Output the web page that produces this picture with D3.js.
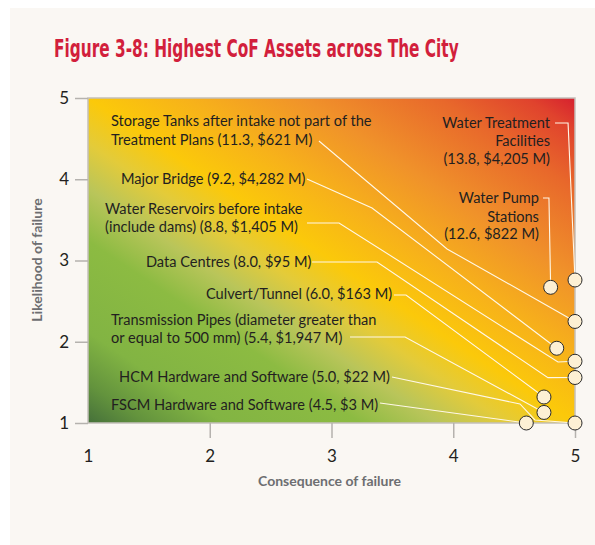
<html>

<head>
    <script src="https://d3js.org/d3.v7.min.js"></script>
    <style>
        body {
            margin: 0;
            background-color: white;
            font-family: Lato, "Open Sans", sans-serif;
        }
    </style>
</head>

<body>
    <div id="chart"></div>
    <script>
        // asset names, risk score and replacement value (from the figure)
        var assets = [
            "Water Treatment Facilities",
            "Water Pump Stations",
            "Storage Tanks after intake not part of the Treatment Plans",
            "Major Bridge",
            "Water Reservoirs before intake (include dams)",
            "Data Centres",
            "Culvert/Tunnel",
            "Transmission Pipes (diameter greater than or equal to 500 mm)",
            "FSCM Hardware and Software",
            "HCM Hardware and Software"
        ];
        var scores = ["13.8", "12.6", "11.3", "9.2", "8.8", "8.0", "6.0", "5.4", "4.5", "5.0"];
        var values = ["$4,205 M", "$822 M", "$621 M", "$4,282 M", "$1,405 M", "$95 M", "$163 M", "$1,947 M", "$3 M", "$22 M"];
        // consequence (x) and likelihood (y) of each asset
        var consequence = [5.0, 4.8, 5.0, 4.85, 5.0, 5.0, 4.745, 4.745, 4.6, 5.0];
        var likelihood = [2.76, 2.67, 2.25, 1.92, 1.76, 1.56, 1.32, 1.13, 1.0, 1.0];

        var xTicks = [1, 2, 3, 4, 5];
        var yTicks = [1, 2, 3, 4, 5];

        // callout layout, in data units: text lines, anchor, and leader bends
        var callouts = [
            { lines: ["Water Treatment", "Facilities", "(13.8, $4,205 M)"], anchor: "end", x: 4.795, y: [4.692, 4.471, 4.249],
              leader: [[4.836, 4.692], [4.943, 4.692]] },
            { lines: ["Water Pump", "Stations", "(12.6, $822 M)"], anchor: "end", x: 4.704, y: [3.769, 3.535, 3.326],
              leader: [[4.737, 3.769], [4.786, 3.769]] },
            { lines: ["Storage Tanks after intake not part of the", "Treatment Plans (11.3, $621 M)"], anchor: "start", x: 1.189, y: [4.717, 4.483],
              leader: [[2.897, 4.471], [3.949, 3.142]] },
            { lines: ["Major Bridge (9.2, $4,282 M)"], anchor: "start", x: 1.271, y: [4.003],
              leader: [[2.799, 4.003], [3.333, 3.646]] },
            { lines: ["Water Reservoirs before intake", "(include dams) (8.8, $1,405 M)"], anchor: "start", x: 1.140, y: [3.634, 3.412],
              leader: [[2.799, 3.462], [3.062, 3.462], [4.86, 1.751]] },
            { lines: ["Data Centres (8.0, $95 M)"], anchor: "start", x: 1.476, y: [2.982],
              leader: [[2.84, 2.982], [3.374, 2.982], [4.778, 1.558]] },
            { lines: ["Culvert/Tunnel (6.0, $163 M)"], anchor: "start", x: 1.969, y: [2.588],
              leader: [[3.513, 2.575], [3.612, 2.575]] },
            { lines: ["Transmission Pipes (diameter greater than", "or equal to 500 mm) (5.4, $1,947 M)"], anchor: "start", x: 1.189, y: [2.268, 2.046],
              leader: [[3.152, 2.058], [3.604, 2.058]] },
            { lines: ["FSCM Hardware and Software (4.5, $3 M)"], anchor: "start", x: 1.189, y: [1.222],
              leader: [[3.398, 1.246]] },
            { lines: ["HCM Hardware and Software (5.0, $22 M)"], anchor: "start", x: 1.255, y: [1.566],
              leader: [[3.497, 1.566], [4.548, 1.234], [4.671, 1.037]] }
        ];

        var width = 595, height = 545;
        var margin = { top: 98, right: 20, bottom: 122, left: 88 };

        var svg = d3.select("#chart").append("svg")
            .attr("width", width)
            .attr("height", height);

        // beige panel
        svg.append("rect")
            .attr("x", 10).attr("y", 8)
            .attr("width", width - 10).attr("height", height - 8)
            .attr("fill", "#faf7f3");

        // title: condensed look by squeezing the bold face horizontally
        var title = svg.append("text")
            .attr("fill", "#d21f3c")
            .style("font-family", "'Liberation Sans Narrow', 'DejaVu Sans Condensed', sans-serif")
            .style("font-weight", "bold")
            .style("font-size", "25px")
            .text("Figure 3-8: Highest CoF Assets across The City");
        var tw = title.node().getComputedTextLength();
        title.attr("transform", "translate(54,57) scale(" + Math.min(1, 405 / tw) + ",1)");

        var x = d3.scaleLinear().domain([1, 5]).range([margin.left, width - margin.right]);
        var y = d3.scaleLinear().domain([1, 5]).range([height - margin.bottom, margin.top]);

        var defs = svg.append("defs");
        var grad = defs.append("linearGradient")
            .attr("id", "risk")
            .attr("x1", 0).attr("y1", 1).attr("x2", 1).attr("y2", 0);
        var stops = [
            [0, "#45703a"], [0.06, "#63933d"], [0.14, "#82b443"], [0.28, "#8cbb42"],
            [0.36, "#b9c55a"], [0.43, "#e3cb3a"], [0.5, "#fbc90a"], [0.6, "#f7b21a"],
            [0.72, "#f0922a"], [0.86, "#e8682b"], [0.95, "#e0432d"], [1, "#d6202f"]
        ];
        grad.selectAll("stop").data(stops).enter().append("stop")
            .attr("offset", function (d) { return d[0]; })
            .attr("stop-color", function (d) { return d[1]; });

        svg.append("rect")
            .attr("x", x(1)).attr("y", y(5))
            .attr("width", x(5) - x(1)).attr("height", y(1) - y(5))
            .attr("fill", "url(#risk)")
            .attr("stroke", "#c4c0bb")
            .attr("stroke-width", 1.5);

        // axes
        var xAxis = svg.append("g")
            .attr("transform", "translate(0," + y(1) + ")")
            .call(d3.axisBottom(x).tickValues(xTicks).tickFormat(d3.format("d")).tickSize(15).tickPadding(12));
        var yAxis = svg.append("g")
            .attr("transform", "translate(" + x(1) + ",0)")
            .call(d3.axisLeft(y).tickValues(yTicks).tickFormat(d3.format("d")).tickSize(13).tickPadding(6));
        [xAxis, yAxis].forEach(function (a) {
            a.select(".domain").remove();
            a.selectAll("line").attr("stroke", "#b5b2ae").attr("stroke-width", 1.5);
            a.selectAll("text")
                .attr("fill", "#231f20")
                .style("font-family", "Lato, 'Open Sans', sans-serif")
                .style("font-size", "17px");
        });
        xAxis.selectAll(".tick").filter(function (d) { return d == 1; }).select("line").remove();

        svg.append("text")
            .attr("x", (x(1) + x(5)) / 2 - 2).attr("y", 486)
            .attr("text-anchor", "middle")
            .attr("fill", "#6d6e71")
            .style("font-weight", "bold")
            .style("font-size", "14px")
            .text("Consequence of failure");

        svg.append("text")
            .attr("transform", "translate(42," + 260 + ") rotate(-90)")
            .attr("text-anchor", "middle")
            .attr("fill", "#6d6e71")
            .style("font-weight", "bold")
            .style("font-size", "14px")
            .text("Likelihood of failure");

        // leader lines
        var line = d3.line()
            .x(function (d) { return x(d[0]); })
            .y(function (d) { return y(d[1]); });

        svg.append("g").selectAll("path")
            .data(callouts).enter().append("path")
            .attr("d", function (c, i) { return line(c.leader.concat([[consequence[i], likelihood[i]]])); })
            .attr("fill", "none")
            .attr("stroke", "#fff8e8")
            .attr("stroke-width", 1.1);

        // labels
        var labels = svg.append("g").selectAll("text")
            .data(callouts).enter().append("text")
            .attr("text-anchor", function (c) { return c.anchor; })
            .attr("fill", "#231f20")
            .style("font-size", "14.6px");
        labels.selectAll("tspan")
            .data(function (c) { return c.lines.map(function (l, k) { return { t: l, x: c.x, y: c.y[k] }; }); })
            .enter().append("tspan")
            .attr("x", function (d) { return x(d.x); })
            .attr("y", function (d) { return y(d.y) + 5; })
            .text(function (d) { return d.t; });

        // asset points
        svg.append("g").selectAll("circle")
            .data(assets).enter().append("circle")
            .attr("cx", function (d, i) { return x(consequence[i]); })
            .attr("cy", function (d, i) { return y(likelihood[i]); })
            .attr("r", 7)
            .attr("fill", "#fdf0d4")
            .attr("stroke", "#2b2b2b")
            .attr("stroke-width", 1);
    </script>
</body>

</html>
